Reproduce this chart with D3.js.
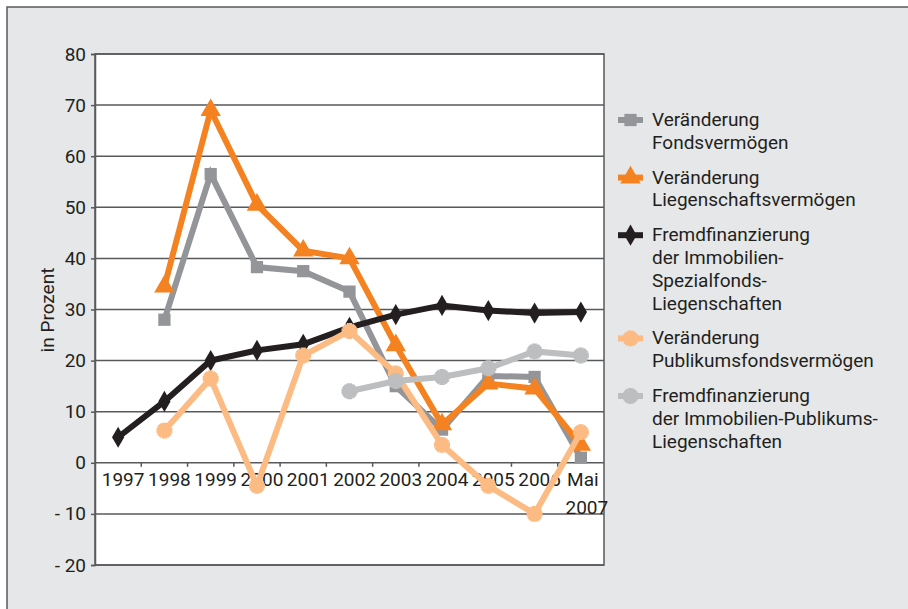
<!DOCTYPE html>
<html><head><meta charset="utf-8">
<script src="https://cdn.jsdelivr.net/npm/d3@7"></script>
<style>
html,body{margin:0;padding:0;background:#fff;}
svg{display:block;font-family:Roboto,"Liberation Sans",sans-serif;}
</style></head>
<body>
<svg id="c" width="908" height="609"></svg>
<script>
const categories = ["1997","1998","1999","2000","2001","2002","2003","2004","2005","2006","Mai 2007"];
const yTicks = [80,70,60,50,40,30,20,10,0,-10,-20];
const yTickLabels = ["80","70","60","50","40","30","20","10","0","- 10","- 20"];
const fondsVermoegen      = [null,28,56.5,38.3,37.5,33.5,15,6.5,17,16.8,1];
const liegenschaftsVerm   = [null,34.5,69,50.5,41.5,40,23,7.5,15.5,14.5,3.5];
const fremdSpezial        = [5,12,20,22,23.2,26.5,29,30.8,29.8,29.3,29.5];
const publikumsVermoegen  = [null,6.3,16.5,-4.5,21,25.8,17.5,3.5,-4.5,-10,6];
const fremdPublikum       = [null,null,null,null,null,14,16,16.8,18.5,21.8,21];
const seriesNames = [
  ["Veränderung","Fondsvermögen"],
  ["Veränderung","Liegenschaftsvermögen"],
  ["Fremdfinanzierung","der Immobilien-","Spezialfonds-","Liegenschaften"],
  ["Veränderung","Publikumsfondsvermögen"],
  ["Fremdfinanzierung","der Immobilien-Publikums-","Liegenschaften"]
];

const series = [
  {name:seriesNames[0], values:fondsVermoegen, color:"#939598", marker:"square"},
  {name:seriesNames[1], values:liegenschaftsVerm, color:"#f58220", marker:"triangle"},
  {name:seriesNames[2], values:fremdSpezial, color:"#231f20", marker:"diamond"},
  {name:seriesNames[3], values:publikumsVermoegen, color:"#fdbb84", marker:"star"},
  {name:seriesNames[4], values:fremdPublikum, color:"#bcbec0", marker:"star"}
];

const svg = d3.select("#c");
const txt = "#231f20", gridC = "#58595b", FS = 19;

// outer panel
svg.append("rect").attr("x",7).attr("y",7).attr("width",920).attr("height",620)
  .attr("fill","#e6e7e8").attr("stroke",gridC).attr("stroke-width",1.5);

const L=95, R=604, T=54, B=565;
const x = d3.scaleBand().domain(categories).range([L,R]);
const y = d3.scaleLinear().domain([-20,80]).range([B,T]);

svg.append("rect").attr("x",L).attr("y",T).attr("width",R-L).attr("height",B-T)
  .attr("fill","#fff").attr("stroke",gridC).attr("stroke-width",1.5);

// gridlines
svg.append("g").selectAll("line").data(yTicks).join("line")
  .attr("x1",L).attr("x2",R).attr("y1",d=>y(d)).attr("y2",d=>y(d))
  .attr("stroke",gridC).attr("stroke-width",1.5);

// y axis
const yAxis = d3.axisLeft(y).tickValues(yTicks).tickSize(4).tickPadding(5)
  .tickFormat((d,i)=>yTickLabels[i]);
const gy = svg.append("g").attr("transform",`translate(${L},0)`).call(yAxis);
gy.select(".domain").attr("stroke",gridC).attr("stroke-width",1.5);
gy.selectAll(".tick line").attr("stroke",gridC).attr("stroke-width",1.5);
gy.selectAll("text").attr("font-size",FS).attr("fill",txt).attr("font-family","Roboto");

// x axis at zero
const y0 = y(0);
const bounds = categories.map(c=>x(c)).slice(1);
svg.append("g").selectAll("line").data(bounds).join("line")
  .attr("x1",d=>d).attr("x2",d=>d).attr("y1",y0).attr("y2",y0+4)
  .attr("stroke",gridC).attr("stroke-width",1.5);
svg.append("g").selectAll("text").data(categories).join("text")
  .attr("x",d=>x(d)+x.bandwidth()/2+5).attr("y",y0+23)
  .attr("text-anchor","middle").attr("font-size",FS).attr("fill",txt)
  .each(function(d){
    const parts=d.split(" ");
    const t=d3.select(this);
    parts.forEach((p,i)=>t.append("tspan").attr("x",x(d)+x.bandwidth()/2+5-(parts.length>1?(i===0?3:-1):0)).attr("dy",i?28:0).text(p));
  });

// y label
svg.append("text").attr("transform","translate(54,310) rotate(-90)")
  .attr("text-anchor","middle").attr("font-size",FS).attr("fill",txt).text("in Prozent");

function markerPath(type){
  switch(type){
    case "square": return d3.symbol(d3.symbolSquare,150)();
    case "triangle": return d3.symbol(d3.symbolTriangle,180)();
    case "diamond": return d3.symbol(d3.symbolDiamond,130)();
    default: return d3.symbol(d3.symbolCross,140)();
  }
}

const cx = d=>x(d)+x.bandwidth()/2;
const line = d3.line().defined(d=>d.v!=null).x(d=>cx(d.c)).y(d=>y(d.v));

series.forEach(s=>{
  const pts = categories.map((c,i)=>({c, v:s.values[i]}));
  const g = svg.append("g");
  g.append("path").attr("d",line(pts)).attr("fill","none").attr("stroke",s.color)
    .attr("stroke-width",6).attr("stroke-linejoin","miter");
  const p = pts.filter(d=>d.v!=null);
  g.selectAll("path.m").data(p).join("path").attr("class","m")
    .attr("d",markerPath(s.marker))
    .attr("transform",d=>`translate(${cx(d.c)},${y(d.v)})`)
    .attr("fill",s.color);
  if(s.marker==="star"){
    g.selectAll("path.m2").data(p).join("path").attr("class","m2")
      .attr("d",markerPath(s.marker))
      .attr("transform",d=>`translate(${cx(d.c)},${y(d.v)}) rotate(45)`)
      .attr("fill",s.color);
  }
});

// legend
const lg = svg.append("g");
let ly = 120;
series.forEach(s=>{
  lg.append("line").attr("x1",618).attr("x2",643).attr("y1",ly).attr("y2",ly)
    .attr("stroke",s.color).attr("stroke-width",6);
  lg.append("path").attr("d",markerPath(s.marker))
    .attr("transform",`translate(630.5,${ly})`).attr("fill",s.color);
  if(s.marker==="star") lg.append("path").attr("d",markerPath(s.marker))
    .attr("transform",`translate(630.5,${ly}) rotate(45)`).attr("fill",s.color);
  const t = lg.append("text").attr("x",652).attr("y",ly+6).attr("font-size",FS).attr("fill",txt);
  s.name.forEach((n,i)=>t.append("tspan").attr("x",652).attr("dy",i?22.8:0).text(n));
  ly += s.name.length*22.8 + 12;
});
</script>
</body></html>
